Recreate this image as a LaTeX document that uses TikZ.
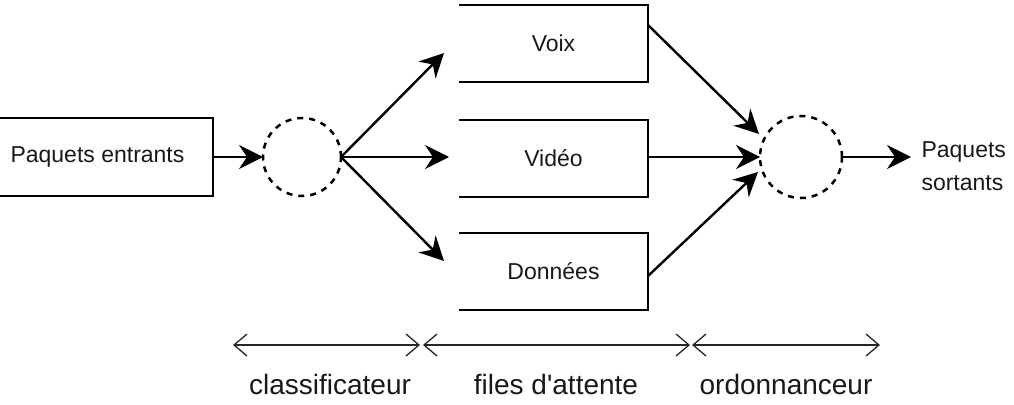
\documentclass[tikz,border=0pt]{standalone}
\usepackage{fontspec}
\setmainfont{Liberation Sans}
\usetikzlibrary{arrows.meta}
\begin{document}
\begin{tikzpicture}[x=1pt,y=-1pt,
  queue/.style={inner sep=0pt,outer sep=0pt,minimum width=189pt,minimum height=77pt,font=\fontsize{23}{27}\selectfont,text=black!90},
  qline/.style={line width=2pt,line join=miter},
  hub/.style={circle,draw=black,line width=2.5pt,dash pattern=on 6pt off 6pt,inner sep=0pt,outer sep=0pt,minimum size=#1},
  flow/.style={line width=2.4pt,-{Stealth[length=24pt,width=24pt,inset=8pt]}},
  span/.style={line width=1.3pt,draw=black!85,{Straight Barb[length=13pt,width=22pt,line width=1.3pt]}-{Straight Barb[length=13pt,width=22pt,line width=1.3pt]}},
  lab/.style={font=\fontsize{28}{32}\selectfont,text=black!90}]
\clip (0,0) rectangle (1014,404);
\fill[white] (0,0) rectangle (1014,404);
% input box
\node[draw=black,line width=2pt,inner sep=0pt,outer sep=0pt,minimum width=227pt,minimum height=78pt] (in) at (99,157) {};
\node[font=\fontsize{23}{27}\selectfont,text=black!90,anchor=west] (intext) at (7,157) {Paquets entrants};
% classifier
\node[hub=78pt] (c1) at (302,157) {};
% queues
\node[queue] (voix) at (553.5,43.5) {Voix};
\node[queue] (video) at (553.5,158.5) {Vidéo};
\node[queue] (data) at (553.5,271) {Données};
\foreach \q in {voix,video,data}{
  \draw[qline] (\q.north west) -| (\q.south east) -- (\q.south west);
}
% scheduler
\node[hub=82pt] (c2) at (801,157) {};
% coordinates
\coordinate (t1) at (444,53);
\coordinate (t2) at (449,157);
\coordinate (t3) at (444,261);
\coordinate (s1) at (648,25);
\coordinate (s2) at (648,157);
\coordinate (s3) at (648,276);
\coordinate (r1) at (759,134);
\coordinate (r2) at (760,157);
\coordinate (r3) at (758,172);
\coordinate (outend) at (911,157);
% arrows
\draw[flow] (in.east) -- (c1.west);
\draw[flow] (c1.east) -- (t1);
\draw[flow] (c1.east) -- (t2);
\draw[flow] (c1.east) -- (t3);
\draw[flow] (s1) -- (r1);
\draw[flow] (s2) -- (r2);
\draw[flow] (s3) -- (r3);
\draw[flow] (c2.east) -- (outend);
\node[anchor=west,align=left,font=\fontsize{23}{33}\selectfont,text=black!90] (out) at (918,166) {Paquets\\sortants};
% spans
\coordinate (a1) at (233,345);
\coordinate (a2) at (420,345);
\coordinate (b1) at (423,345);
\coordinate (b2) at (690,345);
\coordinate (d1) at (692,345);
\coordinate (d2) at (880,345);
\draw[span] (a1) -- (a2);
\draw[span] (b1) -- (b2);
\draw[span] (d1) -- (d2);
\node[lab] (l1) at (330,384) {classificateur};
\node[lab] (l2) at (556,384) {files d\textquotesingle attente};
\node[lab] (l3) at (786,384) {ordonnanceur};
\end{tikzpicture}
\end{document}
